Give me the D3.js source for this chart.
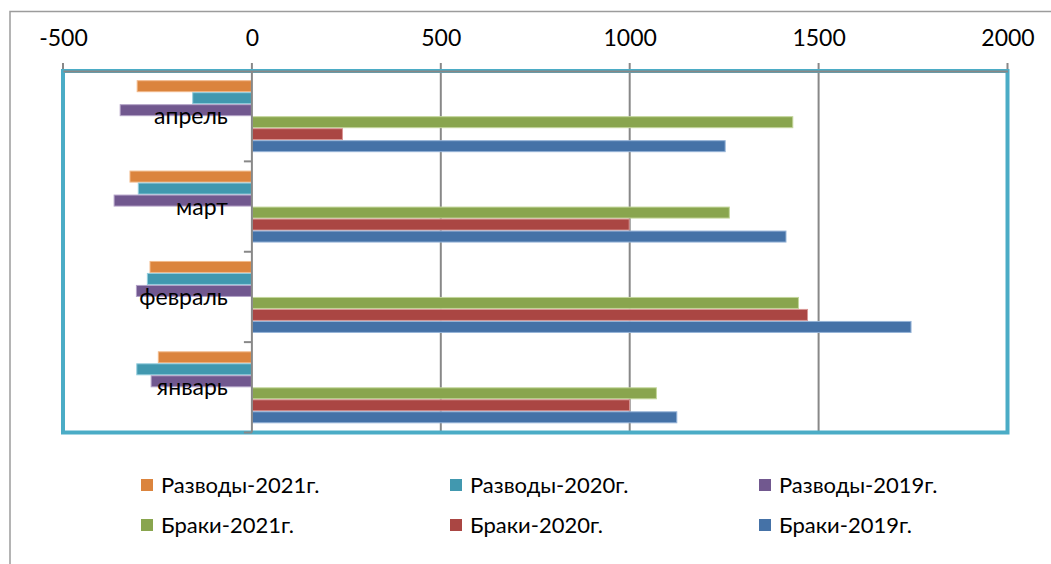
<!DOCTYPE html>
<html><head><meta charset="utf-8">
<script src="https://cdn.jsdelivr.net/npm/d3@7"></script>
<style>
html,body{margin:0;padding:0;background:#fff;overflow:hidden}
svg{display:block;font-family:Lato,"Open Sans",sans-serif}
</style></head>
<body>
<svg id="c" width="1051" height="564"></svg>
<script>
const categories = ["январь", "февраль", "март", "апрель"];
const seriesNames = ["Разводы-2021г.", "Разводы-2020г.", "Разводы-2019г.", "Браки-2021г.", "Браки-2020г.", "Браки-2019г."];
const razvody2021 = [-249, -271, -324, -305];
const razvody2020 = [-306, -278, -302, -158];
const razvody2019 = [-268, -307, -366, -350];
const braki2021 = [1072, 1448, 1265, 1433];
const braki2020 = [1001, 1472, 1000, 241];
const braki2019 = [1126, 1746, 1415, 1254];
const tickValues = [-500, 0, 500, 1000, 1500, 2000];
const seriesValues = [razvody2021, razvody2020, razvody2019, braki2021, braki2020, braki2019];
const colors = ["#DB843D", "#4198AF", "#71588F", "#89A54E", "#AA4643", "#4572A7"];
const strokes = ["#F2B98A", "#93CDDD", "#B3A2C7", "#C3D69B", "#D99694", "#95B3D7"];

const svg = d3.select("#c");
const L = 63, R = 1007.5, T = 71, B = 432.5;

const x = d3.scaleLinear().domain([-500, 2000]).range([L, R]);
const y = d3.scaleBand().domain(categories.slice().reverse()).range([T, B])
  .paddingInner(0.2035).paddingOuter(0.1018);
const yStep = (B - T) / categories.length;
const ys = d3.scaleBand().domain(seriesNames).range([0, y.bandwidth()]).padding(0);

// outer frame
svg.append("path").attr("d", `M10,564 V11.5 H1051`).attr("fill", "none")
  .attr("stroke", "#9c9c9c").attr("stroke-width", 1.5);

// gridlines
svg.append("g").selectAll("line").data(tickValues.filter(v => v !== 0)).join("line")
  .attr("x1", d => x(d)).attr("x2", d => x(d)).attr("y1", T - 8).attr("y2", B)
  .attr("stroke", "#888").attr("stroke-width", 2);
svg.append("line").attr("x1", x(0)).attr("x2", x(0)).attr("y1", T - 8).attr("y2", T)
  .attr("stroke", "#888").attr("stroke-width", 2);

// bars
const rows = [];
categories.forEach((c, ci) => seriesNames.forEach((s, si) => rows.push({c, s, si, v: seriesValues[si][ci]})));
svg.append("g").selectAll("rect").data(rows).join("rect")
  .attr("x", d => x(Math.min(0, d.v)) + 0.5)
  .attr("width", d => Math.abs(x(d.v) - x(0)) - 1)
  .attr("y", d => y(d.c) + ys(d.s) + 0.5)
  .attr("height", ys.bandwidth() - 1)
  .attr("fill", d => colors[d.si])
  .attr("stroke", d => strokes[d.si]).attr("stroke-width", 1);

// plot border
svg.append("rect").attr("x", L).attr("y", T).attr("width", R - L).attr("height", B - T)
  .attr("fill", "none").attr("stroke", "#4BACC6").attr("stroke-width", 4);

// top value axis
const xAxis = d3.axisTop(x).tickValues(tickValues).tickSize(0).tickPadding(25).tickFormat(d => String(d));
const gx = svg.append("g").attr("transform", `translate(0,${T})`).call(xAxis);
gx.select(".domain").attr("stroke", "#888").attr("stroke-width", 2);
gx.selectAll("text").attr("font-size", 23).attr("fill", "#000").attr("font-family", "Lato");

// category axis at zero
svg.append("line").attr("x1", x(0)).attr("x2", x(0)).attr("y1", T).attr("y2", B)
  .attr("stroke", "#888").attr("stroke-width", 2);
const boundaries = d3.range(1, categories.length + 1).map(i => T + i * yStep);
svg.append("g").selectAll("line").data(boundaries).join("line")
  .attr("x1", x(0) - 8).attr("x2", x(0)).attr("y1", d => d).attr("y2", d => d)
  .attr("stroke", "#888").attr("stroke-width", 2);
svg.append("g").selectAll("text").data(categories).join("text")
  .attr("x", x(0) - 24).attr("y", d => y(d) + y.bandwidth() / 2 + 8)
  .attr("text-anchor", "end").attr("font-size", 23).attr("fill", "#000").text(d => d);

// legend
const legend = svg.append("g");
seriesNames.forEach((s, i) => {
  const col = i % 3, row = Math.floor(i / 3);
  const lx = 141 + col * 309, ly = 485 + row * 40;
  legend.append("rect").attr("x", lx).attr("y", ly - 6).attr("width", 12).attr("height", 12).attr("fill", colors[i]);
  legend.append("text").attr("x", lx + 20).attr("y", ly + 8).attr("font-size", 22).attr("fill", "#000").text(s);
});
</script>
</body></html>
